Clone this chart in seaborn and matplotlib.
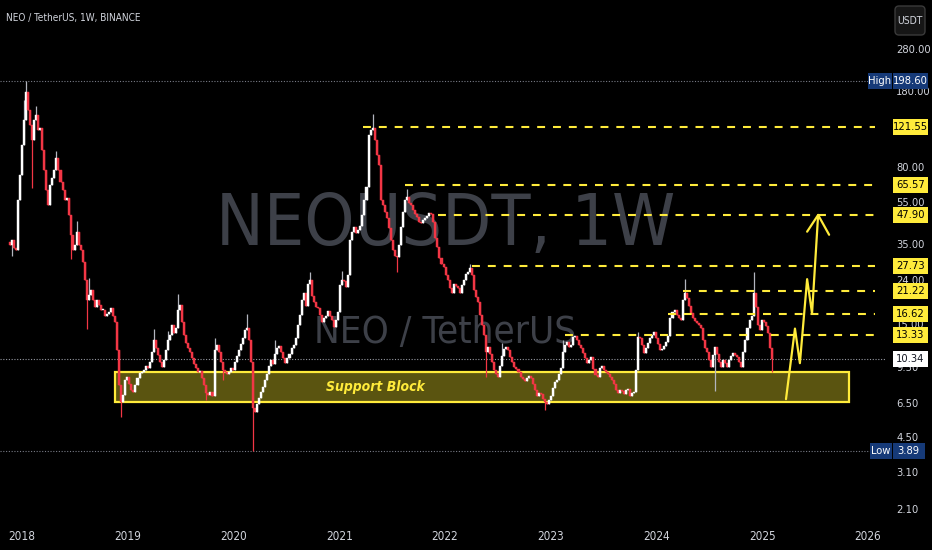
import numpy as np
import pandas as pd
import matplotlib
matplotlib.use("Agg")
import matplotlib.pyplot as plt
import matplotlib.dates as mdates
from matplotlib import font_manager
from matplotlib.patches import Rectangle, FancyBboxPatch
from matplotlib.transforms import IdentityTransform
from matplotlib.ticker import FixedLocator, FixedFormatter, NullLocator
import seaborn as sns

# ---------------- data (NEO/USDT weekly) ----------------
start_week = "2017-11-20"
first_open = 36.0
closes = [
    34.8, 36.7, 33.6, 33.0, 56.1, 73.2, 100.8, 131.5, 177.1, 146.3,
    124.7, 106.4, 131.5, 138.7, 118.2, 120.8, 95.6, 77.3, 62.4, 53.2,
    65.8, 71.0, 77.3, 87.8, 77.3, 67.9, 62.4, 56.1, 57.3, 47.8,
    38.7, 33.0, 34.8, 39.9, 34.8, 33.0, 29.0, 23.9, 19.4, 20.5,
    21.6, 19.4, 18.0, 19.4, 18.4, 17.4, 17.4, 16.35, 16.7, 17.05,
    17.8, 16.35, 15.3, 11.4, 7.84, 6.53, 7.04, 8.26, 8.53, 7.92,
    7.42, 7.26, 7.84, 8.44, 8.89, 8.99, 9.18, 9.6, 9.38, 10.0,
    11.13, 12.66, 11.62, 10.78, 10.0, 9.47, 10.2, 11.4, 12.66, 13.36,
    14.84, 13.64, 14.35, 17.4, 18.4, 15.3, 13.36, 12.23, 11.62, 11.13,
    10.41, 9.8, 9.38, 8.99, 9.09, 8.44, 7.84, 7.19, 7.04, 7.26,
    6.96, 11.4, 11.97, 11.13, 10.0, 9.18, 8.99, 8.80, 8.99, 9.38,
    9.18, 10.0, 10.67, 11.4, 12.1, 12.94, 14.05, 14.35, 12.66, 10.0,
    6.13, 5.87, 6.40, 6.82, 7.26, 7.66, 8.26, 8.80, 9.6, 10.2,
    9.8, 10.9, 11.62, 11.85, 11.13, 10.41, 9.9, 10.41, 10.9, 11.62,
    11.97, 12.94, 14.84, 16.5, 19.4, 20.9, 18.2, 22.9, 23.9, 20.3,
    19.0, 18.0, 17.8, 16.5, 15.3, 15.97, 16.35, 17.2, 16.35, 15.6,
    14.5, 15.6, 17.05, 22.7, 23.9, 23.7, 22.25, 25.2, 36.7, 39.9,
    42.1, 39.5, 40.8, 42.6, 47.8, 56.1, 64.4, 112.1, 118.2, 120.8,
    106.4, 90.6, 81.5, 56.1, 53.2, 49.3, 46.4, 41.6, 36.7, 33.0,
    30.9, 30.6, 34.8, 42.1, 49.3, 56.1, 57.9, 54.4, 53.2, 50.5,
    48.3, 46.9, 44.4, 44.0, 45.4, 46.4, 47.3, 48.8, 48.3, 44.4,
    37.5, 34.0, 30.3, 28.4, 27.5, 25.2, 23.9, 22.0, 20.9, 22.9,
    22.4, 22.0, 20.9, 22.7, 23.9, 25.5, 26.0, 27.2, 25.2, 21.6,
    20.0, 19.0, 16.5, 14.84, 13.36, 11.13, 11.74, 10.9, 10.0, 9.18,
    8.80, 8.53, 9.6, 10.67, 11.5, 11.74, 11.4, 10.52, 10.0, 9.47,
    9.28, 8.99, 8.53, 8.35, 8.17, 8.44, 8.62, 8.44, 7.92, 7.42,
    6.96, 7.19, 7.11, 6.75, 6.53, 6.40, 6.68, 6.96, 7.58, 8.09,
    8.26, 8.80, 9.38, 11.13, 11.97, 12.35, 11.74, 11.97, 13.07, 13.2,
    12.66, 11.97, 11.62, 11.0, 10.41, 9.9, 10.2, 10.52, 9.28, 8.70,
    8.53, 9.38, 9.6, 9.18, 8.99, 8.80, 8.53, 8.26, 7.92, 7.42,
    7.19, 7.42, 7.34, 7.11, 7.42, 7.50, 6.96, 7.19, 7.26, 9.18,
    13.07, 12.94, 11.97, 11.0, 11.62, 12.23, 12.94, 13.36, 13.8, 12.94,
    12.1, 11.4, 11.5, 11.85, 12.35, 13.2, 15.97, 17.05, 17.4, 16.5,
    15.97, 15.6, 19.4, 20.9, 19.8, 18.2, 16.9, 15.97, 15.5, 15.2,
    14.84, 14.35, 12.66, 11.62, 11.13, 10.2, 9.47, 10.78, 11.74, 10.9,
    10.0, 9.47, 10.2, 9.9, 9.47, 10.2, 10.67, 11.0, 10.78, 10.52,
    10.0, 9.47, 11.13, 12.66, 14.35, 15.6, 16.35, 20.9, 18.0, 14.84,
    14.05, 15.6, 15.3, 14.7, 13.64, 11.62, 10.34,
]
wick_high = {7: 162, 8: 198.6, 9: 170, 13: 153, 23: 95, 33: 45, 39: 24.6,
             53: 14.5, 71: 14.2, 78: 14.0, 83: 20.7, 101: 13.0, 117: 16.7,
             131: 12.6, 148: 26.0, 164: 26.5, 179: 140, 196: 63, 227: 28.4,
             243: 12.3, 273: 12.6, 310: 13.8, 333: 24.2, 367: 26.0}
wick_low = {1: 31, 11: 64, 30: 30, 38: 14.2, 55: 5.6, 97: 6.7, 105: 8.3,
            120: 3.89, 191: 26, 235: 8.5, 264: 6.0, 348: 7.4, 376: 9.0}

level_prices = [121.55, 65.57, 47.90, 27.73, 21.22, 16.62, 13.33]
level_labels = ["121.55", "65.57", "47.90", "27.73", "21.22", "16.62", "13.33"]
level_starts = ["2021-03-24", "2021-08-16", "2021-12-08", "2022-04-04",
                "2024-04-02", "2024-02-10", "2023-02-20"]
level_end = "2026-01-25"

support_dates = ["2018-11-18", "2025-10-28"]
support_prices = [6.57, 9.04]

arrow_dates = ["2025-03-24", "2025-04-24", "2025-05-11", "2025-06-05",
               "2025-06-22", "2025-07-13"]
arrow_prices = [6.75, 14.3, 9.9, 24.2, 16.8, 47.9]
head_dates = ["2025-06-05", "2025-07-13", "2025-08-20"]
head_prices = [40.1, 47.9, 38.8]

high_price, low_price, last_price = 198.60, 3.89, 10.34
axis_ticks = [280, 180, 80, 55, 35, 24, 15, 9.5, 6.5, 4.5, 3.1, 2.1]
axis_tick_labels = ["280.00", "180.00", "80.00", "55.00", "35.00",
                    "24.00", "15.00", "9.50", "6.50", "4.50", "3.10", "2.10"]
years = list(range(2018, 2027))

# ---------------- style ----------------
sns.set_theme(style="dark", rc={"axes.facecolor": "#000000",
                                "figure.facecolor": "#000000"})
names = {f.name for f in font_manager.fontManager.ttflist}
stretch = "normal"
if "Liberation Sans Narrow" in names:
    FONT = "Liberation Sans Narrow"
elif any(f.name == "DejaVu Sans" and str(f.stretch) in ("condensed", "semi-condensed")
         for f in font_manager.fontManager.ttflist):
    FONT = "DejaVu Sans"
    stretch = "condensed"
elif "Roboto" in names:
    FONT = "Roboto"
else:
    FONT = "DejaVu Sans"
plt.rcParams["font.family"] = [FONT, "DejaVu Sans"]
plt.rcParams["font.stretch"] = stretch

UP, DOWN = "#ffffff", "#f23645"
YEL = "#ffeb3b"
TXT = "#d1d4dc"
W, H = 932, 550

fig = plt.figure(figsize=(W / 100, H / 100), dpi=100)
ax = fig.add_axes([0, 28 / H, 885 / W, 522 / H])
ax.set_facecolor("#000000")
for s in ax.spines.values():
    s.set_visible(False)
ax.grid(False)

# ---------------- candles ----------------
dates = pd.date_range(start_week, periods=len(closes), freq="7D")
x = mdates.date2num(dates)
c = np.array(closes, float)
o = np.array([first_open] + closes[:-1], float)
hi = np.maximum(o, c)
lo = np.minimum(o, c)
for k, v in wick_high.items():
    hi[k] = max(hi[k], v)
for k, v in wick_low.items():
    lo[k] = min(lo[k], v)
up = c >= o
body_bot = np.minimum(o, c)
body_top = np.maximum(np.maximum(o, c), body_bot * 1.015)
cols = np.where(up, UP, DOWN)
ax.vlines(x, lo, hi, colors=np.where(up, "#b2b5be", DOWN), lw=0.9, zorder=2)
ax.bar(x, body_top - body_bot, bottom=body_bot, width=7.0,
       color=cols, edgecolor=cols, lw=0.3, zorder=3)

ax.set_yscale("log")
ax.set_ylim(1.827, 471.6)
ax.set_xlim(mdates.date2num(pd.Timestamp("2017-10-17")),
            mdates.date2num(pd.Timestamp("2026-03-01")))

# support block
sx = mdates.date2num(pd.to_datetime(support_dates))
ax.add_patch(Rectangle((sx[0], support_prices[0]), sx[1] - sx[0],
                       support_prices[1] - support_prices[0],
                       facecolor="#5a5410", edgecolor=YEL, lw=1.6, zorder=1))
ax.text(mdates.date2num(pd.Timestamp("2021-05-04")),
        np.sqrt(support_prices[0] * support_prices[1]), "Support Block",
        color=YEL, fontsize=10, fontweight="bold", fontstyle="italic",
        ha="center", va="center", zorder=6)

# dotted reference lines
ax.axhline(high_price, color="#787b86", ls=(0, (1, 1.5)), lw=0.8, zorder=1.5)
ax.axhline(low_price, color="#787b86", ls=(0, (1, 1.5)), lw=0.8, zorder=1.5)
ax.axhline(last_price, color="#9598a1", ls=(0, (1, 1.5)), lw=0.8, zorder=1.5)

# dashed levels
ls_x = mdates.date2num(pd.to_datetime(level_starts))
le_x = mdates.date2num(pd.Timestamp(level_end))
ax.hlines(level_prices, ls_x, le_x, colors=YEL, lw=1.5,
          linestyles=(0, (3.8, 3.8)), zorder=4)

# projected path (seaborn)
ax_x = mdates.date2num(pd.to_datetime(arrow_dates))
sns.lineplot(x=ax_x, y=arrow_prices, sort=False, estimator=None, color=YEL,
             lw=1.6, ax=ax, zorder=5)
hd_x = mdates.date2num(pd.to_datetime(head_dates))
sns.lineplot(x=hd_x, y=head_prices, sort=False, estimator=None, color=YEL,
             lw=1.6, ax=ax, zorder=5)

# watermark
wm1 = ax.text(0.503, 0.531, "NEOUSDT, 1W", transform=ax.transAxes, ha="center",
              va="baseline", color="#3d4048", fontsize=60, zorder=0.5)
wm2 = ax.text(0.503, 0.343, "NEO / TetherUS", transform=ax.transAxes, ha="center",
              va="baseline", color="#3d4048", fontsize=30, zorder=0.5)

# axes ticks
ax.xaxis.set_major_locator(FixedLocator(mdates.date2num(
    pd.to_datetime([f"{y}-01-01" for y in years]))))
ax.xaxis.set_major_formatter(FixedFormatter([str(y) for y in years]))
ax.xaxis.set_minor_locator(NullLocator())
ax.tick_params(axis="x", length=0, pad=6, labelcolor=TXT, labelsize=8.5)
ax.yaxis.tick_right()
ax.yaxis.set_major_locator(FixedLocator(axis_ticks))
ax.yaxis.set_major_formatter(FixedFormatter(axis_tick_labels))
ax.yaxis.set_minor_locator(NullLocator())
ax.tick_params(axis="y", length=0, pad=8, labelcolor=TXT, labelsize=8)
ax.set_xlabel("")
ax.set_ylabel("")

# title
title = fig.text(6 / W, (H - 18) / H, "NEO / TetherUS, 1W, BINANCE", color=TXT,
                 fontsize=8.5, ha="left", va="center")

renderer = fig.canvas.get_renderer()


def fit(t, target):
    w = t.get_window_extent(renderer).width
    t.set_fontsize(t.get_fontsize() * target / w)


fit(wm1, 460)
fit(wm2, 262)
fit(title, 134)

# ---------------- price-axis boxes (pixel coordinates) ----------------
IT = IdentityTransform()


def ydisp(p):
    return ax.transData.transform((ax.get_xlim()[0], p))[1]


def box(x0, x1, yc, face, text, tcolor, h=16, size=8):
    fig.add_artist(Rectangle((x0, yc - h / 2), x1 - x0, h, transform=IT,
                             facecolor=face, edgecolor="none", zorder=10))
    fig.text((x0 + x1) / 2 / W, yc / H, text, ha="center", va="center",
             color=tcolor, fontsize=size, zorder=11)


for p, lab in zip(level_prices, level_labels):
    box(893, 928, ydisp(p), YEL, lab, "#000000")
box(893, 928, ydisp(last_price), "#ffffff", "10.34", "#131722")
NAVY = "#163a78"
yh = ydisp(high_price)
box(868, 891.5, yh, NAVY, "High", "#ffffff")
box(892.5, 928, yh, NAVY, "198.60", "#ffffff")
yl = ydisp(low_price)
box(870, 891.5, yl, NAVY, "Low", "#ffffff")
box(892.5, 925, yl, NAVY, "3.89", "#ffffff")

# currency button
fig.add_artist(FancyBboxPatch((895, H - 35), 30, 29, transform=IT,
                              boxstyle="round,pad=0,rounding_size=4",
                              facecolor="#161616", edgecolor="#3a3a3a", lw=1,
                              zorder=10))
fig.text(910 / W, (H - 20.5) / H, "USDT", ha="center", va="center", color=TXT,
         fontsize=7.5, zorder=11)

fig.savefig("out.png", dpi=100, facecolor="#000000")
